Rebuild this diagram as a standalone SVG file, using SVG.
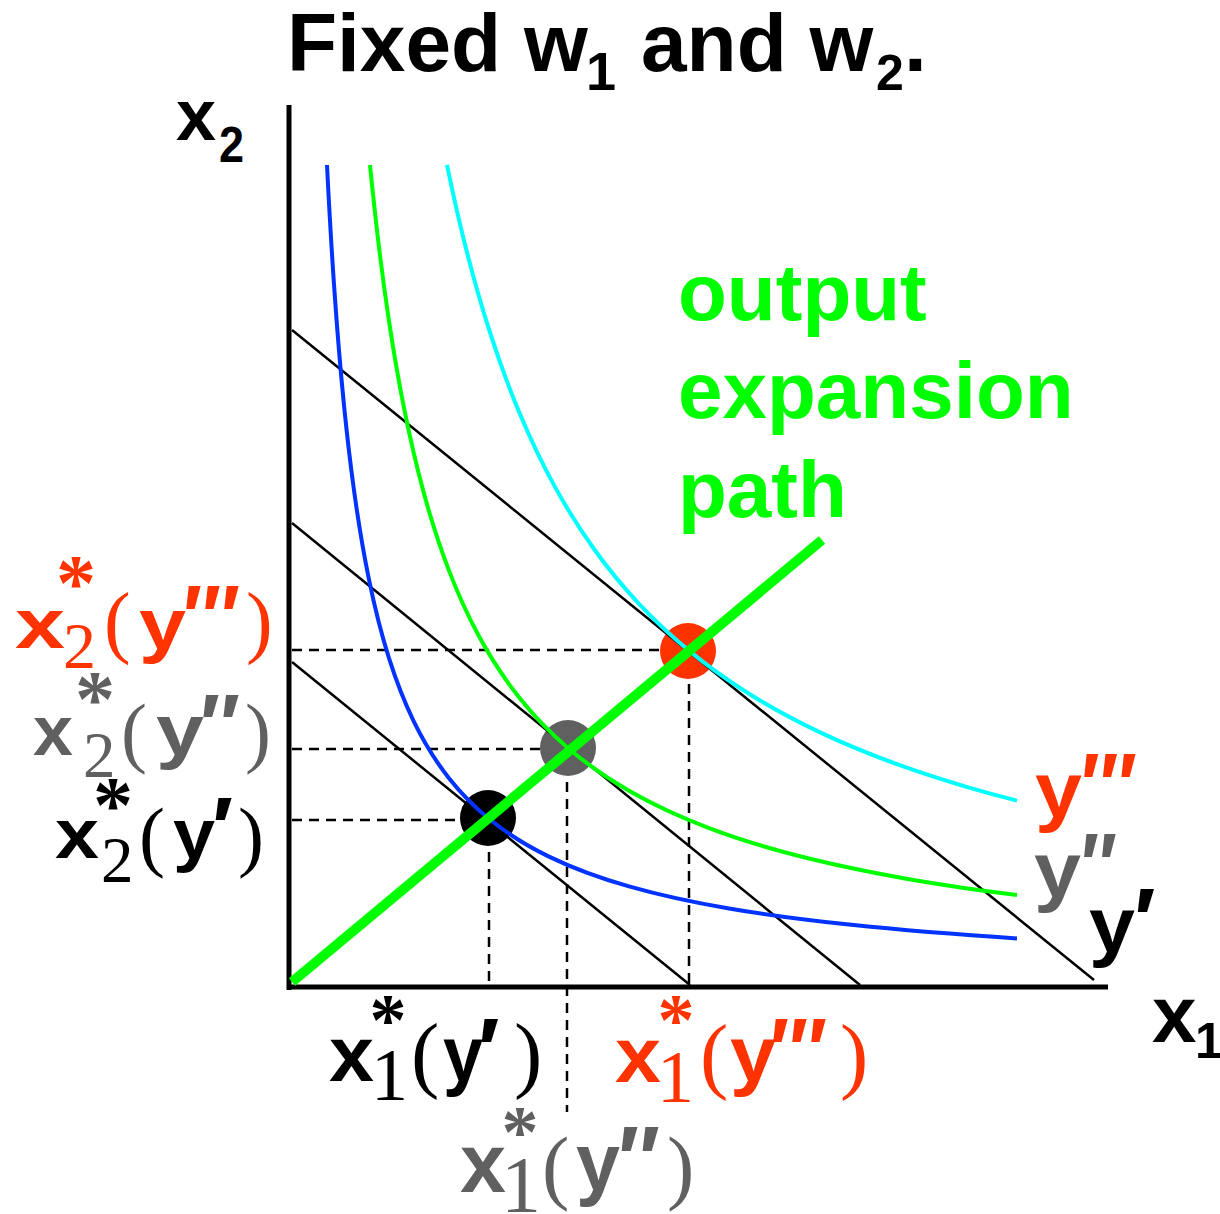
<svg xmlns="http://www.w3.org/2000/svg" width="1220" height="1214" viewBox="0 0 1220 1214">
<style>
.sb{font-family:"Liberation Sans",Arial,sans-serif;font-weight:bold}
.sr{font-family:"Liberation Serif","Times New Roman",serif}
.ast{font-family:"Liberation Serif","Times New Roman",serif;font-weight:bold;text-anchor:middle}
.red{fill:#ff3300}.gray{fill:#606060}.blk{fill:#000}.grn{fill:#00ff00}
.dash{stroke:#000;stroke-width:2.5;stroke-dasharray:10 7;fill:none}
.budget{stroke:#000;stroke-width:2.5;fill:none}
.iso{fill:none;stroke-width:4;stroke-linejoin:round;stroke-linecap:butt}
</style>
<rect width="1220" height="1214" fill="#fff"/>
<g id="title" class="sb blk">
<text x="287" y="71" font-size="82">Fixed w</text>
<text x="586" y="90" font-size="54">1</text>
<text x="641" y="71" font-size="82">and w</text>
<text x="876" y="90" font-size="50">2</text>
<text x="904" y="71" font-size="82">.</text>
</g>
<g id="axes">
<line x1="289" y1="105" x2="289" y2="990" stroke="#000" stroke-width="5"/>
<line x1="287" y1="987" x2="1108" y2="987" stroke="#000" stroke-width="5"/>
<text class="sb blk" x="176" y="140" font-size="72">x</text>
<text class="sb blk" x="219" y="162" font-size="50" textLength="25" lengthAdjust="spacingAndGlyphs">2</text>
<text class="sb blk" x="1152" y="1042" font-size="80">x</text>
<text class="sb blk" x="1195" y="1058" font-size="50">1</text>
</g>
<g id="connectors">
<g id="dashed-guides">
<line class="dash" x1="292" y1="650" x2="688" y2="650"/>
<line class="dash" x1="292" y1="749" x2="568" y2="749"/>
<line class="dash" x1="292" y1="820" x2="488" y2="820"/>
<line class="dash" x1="689" y1="650" x2="689" y2="985"/>
<line class="dash" x1="567" y1="748" x2="567" y2="1112"/>
<line class="dash" x1="489" y1="818" x2="489" y2="985"/>
</g>
</g>
<g id="point-y1"><circle cx="488" cy="818" r="28" fill="#000"/></g>
<g id="point-y2"><circle cx="568" cy="748" r="28" fill="#606060"/></g>
<g id="point-y3"><circle cx="688" cy="651" r="28" fill="#ff3300"/></g>
<g id="isocosts">
<line class="budget" x1="292" y1="330" x2="1094" y2="980"/>
<line class="budget" x1="292" y1="523" x2="860" y2="985"/>
<line class="budget" x1="292" y1="662" x2="690" y2="985"/>
</g>
<g id="isoquants">
<path id="isoquant-y1" class="iso" stroke="#0033ff" d="M327,165 C329.33,211.62 331.67,250.48 334,284.5 C337.33,333.1 340.67,371.92 344,405.2 C347.33,438.48 350.67,466.09 354,490.3 C359,526.62 364,555.22 369,579.6 C375.67,612.11 382.33,637.09 389,658.2 C397.33,684.58 405.67,704.82 414,721.9 C425.67,745.82 437.33,763.45 449,778.2 C462.33,795.05 475.67,807.93 489,818.8 C509,835.1 529,846.89 549,856.6 C575.67,869.55 602.33,878.79 629,886.4 C662.33,895.92 695.67,902.79 729,908.5 C769,915.35 809,920.36 849,924.6 C905,930.54 961,934.88 1017,938.4"/>
<path id="isoquant-y2" class="iso" stroke="#00ff00" d="M370,165.06 C373,195.48 376,222.56 379,247.2 C382.33,274.58 385.67,298.95 389,321.13 C394,354.4 399,382.76 404,407.92 C410.67,441.46 417.33,469.29 424,493.63 C432.33,524.05 440.67,548.98 449,570.64 C459,596.63 469,617.88 479,636.31 C492.33,660.88 505.67,680.44 519,697.21 C535.33,717.75 551.67,734.06 568,748.02 C588.33,765.4 608.67,779.1 629,790.8 C655.67,806.15 682.33,818.02 709,828.08 C742.33,840.65 775.67,850.34 809,858.54 C842.33,866.74 875.67,873.41 909,879.18 C945,885.41 981,890.58 1017,895.1"/>
<path id="isoquant-y3" class="iso" stroke="#00ffff" d="M447,164.85 C452.67,192.62 458.33,217.59 464,240.49 C472.33,274.16 480.67,303.35 489,329.48 C499,360.84 509,387.78 519,411.79 C530.67,439.8 542.33,463.8 554,485.13 C567.33,509.51 580.67,530.4 594,548.98 C609,569.89 624,587.85 639,603.86 C655.33,621.29 671.67,636.38 688,649.88 C708.33,666.69 728.67,681.04 749,693.77 C772.33,708.38 795.67,720.85 819,731.91 C845.67,744.56 872.33,755.36 899,764.95 C922.33,773.35 945.67,780.8 969,787.58 C985,792.23 1001,796.56 1017,800.62"/>
</g>
<g id="expansion-path">
<line x1="292" y1="982" x2="822" y2="540" stroke="#00ff00" stroke-width="10"/>
<g class="sb grn" font-size="80">
<text x="678" y="320">output</text>
<text x="678" y="418">expansion</text>
<text x="678" y="517">path</text>
</g>
</g>
<g id="label-x2-y3" class="red">
<text class="sb" x="15" y="648" font-size="70" textLength="50" lengthAdjust="spacingAndGlyphs">x</text>
<text class="sr" x="63" y="668" font-size="66">2</text>
<text class="ast" x="76" y="610" font-size="80">*</text>
<text class="sr" x="104" y="648" font-size="80">(</text>
<text class="sb" x="139" y="649" font-size="72" textLength="47" lengthAdjust="spacingAndGlyphs">y</text>
<text class="sb" x="183" y="649" font-size="90" textLength="57" lengthAdjust="spacingAndGlyphs">′′′</text>
<text class="sr" x="246" y="648" font-size="80">)</text>
</g>
<g id="label-x2-y2" class="gray">
<text class="sb" x="33" y="755" font-size="71" textLength="40" lengthAdjust="spacingAndGlyphs">x</text>
<text class="sr" x="83" y="777" font-size="65">2</text>
<text class="ast" x="95" y="726" font-size="80">*</text>
<text class="sr" x="121" y="758" font-size="78">(</text>
<text class="sb" x="156" y="755" font-size="72" textLength="48" lengthAdjust="spacingAndGlyphs">y</text>
<text class="sb" x="200" y="755" font-size="88" textLength="40" lengthAdjust="spacingAndGlyphs">′′</text>
<text class="sr" x="245" y="758" font-size="78">)</text>
</g>
<g id="label-x2-y1" class="blk">
<text class="sb" x="55" y="858" font-size="70" textLength="44" lengthAdjust="spacingAndGlyphs">x</text>
<text class="sr" x="101" y="882" font-size="65">2</text>
<text class="ast" x="113" y="832" font-size="80">*</text>
<text class="sr" x="139" y="862" font-size="78">(</text>
<text class="sb" x="173" y="858" font-size="70" textLength="42" lengthAdjust="spacingAndGlyphs">y</text>
<text class="sb" x="212" y="858" font-size="88">′</text>
<text class="sr" x="238" y="862" font-size="78">)</text>
</g>
<g id="label-x1-y1" class="blk">
<text class="sb" x="329" y="1081" font-size="78" textLength="45" lengthAdjust="spacingAndGlyphs">x</text>
<text class="sr" x="371" y="1100" font-size="74">1</text>
<text class="ast" x="388" y="1045" font-size="74">*</text>
<text class="sr" x="411" y="1082" font-size="85">(</text>
<text class="sb" x="443" y="1081" font-size="78" textLength="40" lengthAdjust="spacingAndGlyphs">y</text>
<text class="sb" x="478" y="1082" font-size="90">′</text>
<text class="sr" x="514" y="1082" font-size="85">)</text>
</g>
<g id="label-x1-y3" class="red">
<text class="sb" x="615" y="1082" font-size="78" textLength="46" lengthAdjust="spacingAndGlyphs">x</text>
<text class="sr" x="657" y="1102" font-size="74">1</text>
<text class="ast" x="676" y="1045" font-size="74">*</text>
<text class="sr" x="700" y="1083" font-size="85">(</text>
<text class="sb" x="730" y="1081" font-size="78" textLength="46" lengthAdjust="spacingAndGlyphs">y</text>
<text class="sb" x="770" y="1082" font-size="90" textLength="57" lengthAdjust="spacingAndGlyphs">′′′</text>
<text class="sr" x="840" y="1083" font-size="85">)</text>
</g>
<g id="label-x1-y2" class="gray">
<text class="sb" x="460" y="1192" font-size="84" textLength="46" lengthAdjust="spacingAndGlyphs">x</text>
<text class="sr" x="501" y="1212" font-size="80">1</text>
<text class="ast" x="520" y="1157" font-size="74">*</text>
<text class="sr" x="542" y="1194" font-size="82">(</text>
<text class="sb" x="576" y="1190" font-size="82" textLength="44" lengthAdjust="spacingAndGlyphs">y</text>
<text class="sb" x="618" y="1192" font-size="94" textLength="42" lengthAdjust="spacingAndGlyphs">′′</text>
<text class="sr" x="667" y="1194" font-size="82">)</text>
</g>
<g id="label-y3" class="sb red">
<text x="1035" y="817" font-size="77" textLength="47" lengthAdjust="spacingAndGlyphs">y</text>
<text x="1081" y="817" font-size="90" textLength="56" lengthAdjust="spacingAndGlyphs">′′′</text>
</g>
<g id="label-y2" class="sb gray">
<text x="1034" y="897" font-size="77" textLength="47" lengthAdjust="spacingAndGlyphs">y</text>
<text x="1081" y="897" font-size="90" textLength="36" lengthAdjust="spacingAndGlyphs">′′</text>
</g>
<g id="label-y1" class="sb blk">
<text x="1089" y="952" font-size="77" textLength="46" lengthAdjust="spacingAndGlyphs">y</text>
<text x="1134" y="952" font-size="90">′</text>
</g>
</svg>
